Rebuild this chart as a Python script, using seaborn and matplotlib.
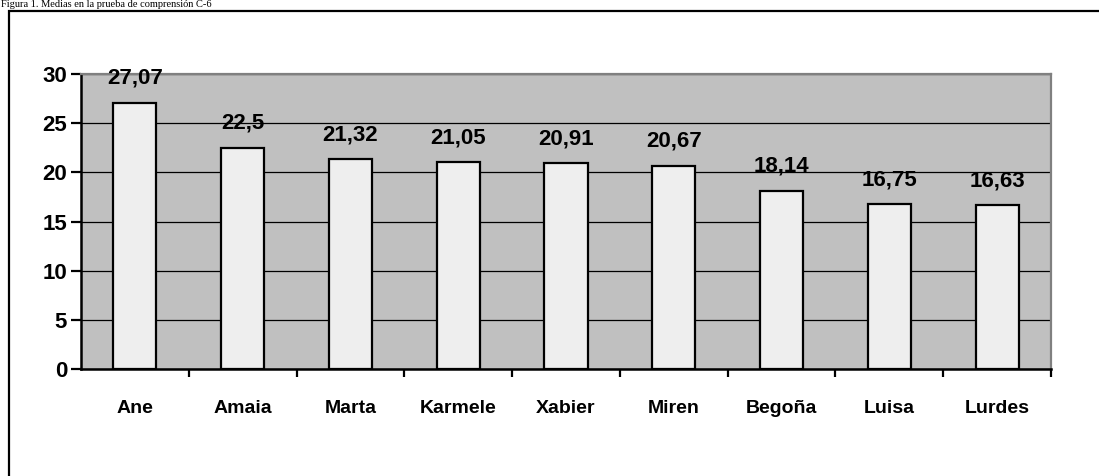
import matplotlib

matplotlib.use("Agg")
import matplotlib.pyplot as plt
import seaborn as sns
import pandas as pd
from matplotlib.patches import Rectangle

# DATA
names = ["Ane", "Amaia", "Marta", "Karmele", "Xabier", "Miren", "Begoña", "Luisa", "Lurdes"]
means = [27.07, 22.5, 21.32, 21.05, 20.91, 20.67, 18.14, 16.75, 16.63]
y_ticks = [0, 5, 10, 15, 20, 25, 30]
caption = "Figura 1. Medias en la prueba de comprensión C-6"

df = pd.DataFrame({"name": names, "mean": means})

# INITIALIZE SEABORN
sns.set_theme(style="white")
plt.rcParams["font.family"] = ["Liberation Sans", "DejaVu Sans"]
plt.rcParams["text.color"] = "black"
plt.rcParams["xtick.color"] = "black"
plt.rcParams["ytick.color"] = "black"

fig = plt.figure(figsize=(10.99, 4.76), dpi=100)
ax = fig.add_axes([81 / 1099, 1 - 369 / 476, (1051 - 81) / 1099, (369 - 74) / 476])
ax.set_facecolor("#C0C0C0")

sns.barplot(
    data=df,
    x="name",
    y="mean",
    color="#EEEEEE",
    edgecolor="black",
    linewidth=1.6,
    width=0.40,
    saturation=1,
    ax=ax,
    zorder=3,
)

# VALUE LABELS WITH DECIMAL COMMA
for container in ax.containers:
    labels = [f"{v:g}".replace(".", ",") for v in container.datavalues]
    ax.bar_label(
        container, labels=labels, padding=10, fontsize=16, fontweight="bold", color="black"
    )

# AXES
ax.set_xlim(-0.5, len(names) - 0.5)
ax.set_ylim(0, 30)
ax.set_yticks(y_ticks)
ax.set_yticklabels([str(t) for t in y_ticks], fontsize=16, fontweight="bold")
ax.yaxis.grid(True, color="black", linewidth=0.9, zorder=1)
ax.set_axisbelow(True)
ax.tick_params(axis="y", which="major", direction="out", length=7, width=1.6, pad=3, left=True)

ax.set_xticks(range(len(names)))
ax.set_xticklabels(names, fontsize=14, fontweight="bold")
ax.set_xticks([i + 0.5 for i in range(len(names))], minor=True)
ax.tick_params(axis="x", which="major", length=0, pad=22)
ax.tick_params(axis="x", which="minor", direction="out", length=6, width=1.6, bottom=True)
ax.set_xlabel("")
ax.set_ylabel("")

for side in ["left", "bottom"]:
    ax.spines[side].set_color("black")
    ax.spines[side].set_linewidth(1.8)
for side in ["top", "right"]:
    ax.spines[side].set_visible(True)
    ax.spines[side].set_color("#808080")
    ax.spines[side].set_linewidth(1.6)

# OUTER FRAME AND CAPTION
fig.patches.append(
    Rectangle(
        (9 / 1099, -0.1),
        1.2,
        1.1 - 11 / 476,
        transform=fig.transFigure,
        fill=False,
        edgecolor="black",
        linewidth=1.6,
    )
)
fig.text(
    0.001,
    0.999,
    caption,
    fontsize=7.5,
    family=["Liberation Serif", "DejaVu Serif"],
    ha="left",
    va="top",
)

fig.savefig("out.png", dpi=100)
